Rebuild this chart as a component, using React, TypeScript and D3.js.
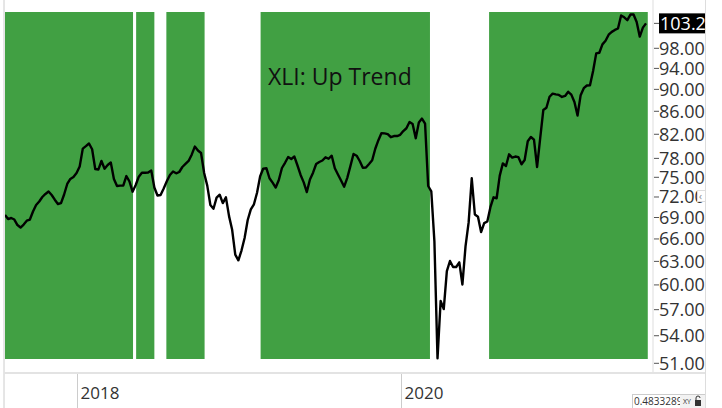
import React from 'react';
import * as d3 from 'd3';

// weekly closes, first week ending 2017-07-21
const startDate = new Date(2017, 6, 21);
const closes = [
  69.36, 68.78, 68.93, 68.71, 67.93, 67.58, 68.0, 68.54, 68.71, 69.86,
  70.81, 71.33, 72.0, 72.45, 72.82, 72.3, 71.6, 70.96, 71.1, 72.37,
  73.97, 74.74, 75.06, 75.67, 76.7, 79.6, 80.0, 80.45, 79.5, 76.3,
  76.2, 77.58, 76.35, 76.94, 77.34, 74.74, 73.66, 73.72, 73.73, 75.2,
  74.35, 72.79, 73.81, 75.1, 75.72, 75.72, 75.75, 76.06, 73.43, 72.22,
  72.3, 73.28, 74.38, 75.36, 75.9, 75.62, 75.83, 76.62, 77.1, 77.58,
  78.6, 79.93, 79.29, 78.88, 75.67, 73.72, 70.81, 70.27, 71.9, 72.34,
  71.1, 71.95, 69.2, 67.26, 63.88, 63.14, 64.43, 66.12, 68.64, 70.18,
  70.92, 72.63, 75.17, 76.37, 76.43, 74.85, 74.18, 73.42, 74.58, 76.46,
  77.29, 78.23, 77.9, 78.3, 76.86, 75.36, 74.21, 72.74, 74.67, 75.72,
  77.1, 77.42, 77.66, 78.17, 77.94, 78.43, 76.41, 75.44, 74.5, 73.55,
  74.92, 76.75, 78.72, 78.43, 77.58, 76.51, 76.54, 77.1, 77.69, 79.58,
  81.0, 82.2, 82.15, 82.03, 81.5, 81.7, 81.7, 81.9, 82.55, 83.03,
  84.11, 83.76, 81.32, 84.02, 84.71, 83.81, 73.66, 72.85, 65.65, 51.53,
  58.03, 57.07, 61.75, 63.05, 62.27, 62.27, 62.87, 60.05, 65.0, 68.3,
  74.85, 69.43, 69.12, 66.95, 68.21, 68.44, 70.49, 71.95, 71.81, 75.26,
  77.19, 76.78, 78.66, 78.13, 78.3, 78.2, 77.05, 77.75, 80.83, 81.54,
  81.1, 76.62, 81.33, 86.23, 86.64, 88.63, 89.2, 89.06, 88.97, 88.6,
  88.78, 89.55, 89.02, 87.69, 85.25, 88.93, 90.23, 90.73, 90.78, 93.5,
  96.98, 97.1, 98.8, 99.55, 100.8, 101.4, 101.8, 102.1, 104.9, 104.5,
  103.9, 105.1, 105.1, 103.5, 100.4, 102.3, 103.2,
];

// up-trend periods [start, end]
const trendStarts = ['2017-07-21', '2018-05-12', '2018-07-19', '2019-02-16', '2020-07-14'];
const trendEnds = ['2018-05-05', '2018-06-22', '2018-10-13', '2020-03-03', '2021-07-06'];

const yTicks = [51, 54, 57, 60, 63, 66, 69, 72, 75, 78, 82, 86, 90, 94, 98];
const xTicks = ['2018-01-01', '2020-01-01'];
const title = 'XLI: Up Trend';
const cursorValue = '0.4833289';

const W = 722, H = 408;
const plotLeft = 5, plotRight = 648, plotTop = 12, plotBottom = 359;
const axisX = 653, axisY = 373, rightEdge = 705;
const green = '#41a043';
const font = '"Open Sans", sans-serif';

const parse = (s: string) => {
  const [y, m, d] = s.split('-').map(Number);
  return new Date(y, m - 1, d);
};

export default function App() {
  const points = closes.map((v, i) => ({ date: d3.timeDay.offset(startDate, i * 7), value: v }));
  const x = d3
    .scaleTime()
    .domain([points[0].date, points[points.length - 1].date])
    .range([plotLeft, 646]);
  const y = d3.scaleLog().domain([51, 98]).range([363.3, 48.3]);

  const line = d3
    .line<{ date: Date; value: number }>()
    .x((d) => x(d.date))
    .y((d) => y(d.value));

  const fmt = d3.format('.2f');
  const last = closes[closes.length - 1];

  return (
    <svg width={W} height={H} style={{ position: 'absolute', left: 0, top: 0 }} fontFamily={font}>
      <rect width={W} height={H} fill="#fff" />
      <defs>
        <clipPath id="plot">
          <rect x={plotLeft} y={0} width={plotRight - plotLeft} height={axisY} />
        </clipPath>
        <clipPath id="right">
          <rect x={0} y={0} width={rightEdge} height={H} />
        </clipPath>
      </defs>

      <g clipPath="url(#plot)">
        {trendStarts.map((s, i) => {
          const x0 = Math.max(plotLeft, x(parse(s)));
          const x1 = Math.min(plotRight, x(parse(trendEnds[i])));
          return <rect key={i} x={x0} y={plotTop} width={x1 - x0} height={plotBottom - plotTop} fill={green} />;
        })}
        <path d={line(points) ?? ''} fill="none" stroke="#000" strokeWidth={2.4} strokeLinejoin="round" />
      </g>

      <text x={268} y={85} fontSize={23} fill="#111">{title}</text>

      {/* frame */}
      <line x1={4} x2={4} y1={0} y2={H} stroke="#ccc" />
      <line x1={axisX} x2={axisX} y1={0} y2={axisY} stroke="#ddd" />
      <line x1={rightEdge + 0.5} x2={rightEdge + 0.5} y1={0} y2={H} stroke="#ddd" />
      <line x1={4} x2={rightEdge} y1={axisY} y2={axisY} stroke="#e3e3e3" strokeWidth={2} />

      {/* y axis */}
      <g clipPath="url(#right)">
        {yTicks.map((t) => (
          <g key={t} transform={`translate(0,${y(t)})`}>
            <line x1={axisX + 1} x2={axisX + 6} stroke="#555" />
            <text x={axisX + 6} dy="0.36em" fontSize={18} fill="#333">{fmt(t)}</text>
          </g>
        ))}
        <g transform={`translate(0,${y(last)})`}>
          <line x1={axisX + 1} x2={axisX + 6} stroke="#555" />
          <rect x={axisX + 6} y={-10} width={60} height={20} fill="#000" />
          <text x={axisX + 7} dy="0.36em" fontSize={18} fill="#fff">{d3.format('.1f')(last)}</text>
        </g>
        <rect x={697.5} y={190.5} width={8} height={11} fill="#fff" stroke="#ddd" />
        <text x={699} y={200} fontSize={10} fill="#888">‹</text>
      </g>

      {/* x axis */}
      {xTicks.map((t) => {
        const d = parse(t);
        const px = Math.round(x(d)) - 0.5;
        return (
          <g key={t}>
            <line x1={px} x2={px} y1={axisY + 1} y2={H} stroke="#ccc" />
            <text x={px + 3} y={399} fontSize={17} fill="#333">{d3.timeFormat('%Y')(d)}</text>
          </g>
        );
      })}

      {/* cursor readout */}
      <g clipPath="url(#right)">
        <rect x={632.5} y={394.5} width={73} height={14} fill="#fff" stroke="#ccc" />
        <text x={634} y={405} fontSize={10} fill="#333">{cursorValue}</text>
        <rect x={680} y={395} width={26} height={13} fill="#f2f2f2" />
        <text x={683} y={404} fontSize={7} fill="#333">XY</text>
        <rect x={695} y={400} width={6} height={6} fill="#333" />
        <path d="M696,400 v-2 a2,2 0 0 1 4,0" fill="none" stroke="#333" strokeWidth={1} />
      </g>
    </svg>
  );
}
